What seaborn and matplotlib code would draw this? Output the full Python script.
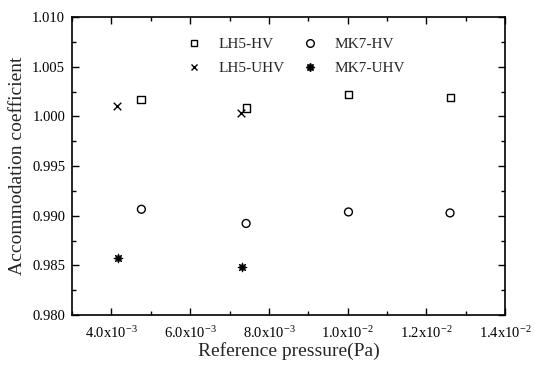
import matplotlib
matplotlib.use("Agg")
import matplotlib.pyplot as plt
import seaborn as sns
import pandas as pd
from matplotlib.ticker import FixedLocator, MultipleLocator, AutoMinorLocator
from matplotlib.lines import Line2D

# ---- data ----
lh5_hv_x = [4.75e-3, 7.42e-3, 10.02e-3, 12.60e-3]
lh5_hv_y = [1.0017, 1.00085, 1.00224, 1.0019]
lh5_uhv_x = [4.14e-3, 7.30e-3]
lh5_uhv_y = [1.00108, 1.00034]
mk7_hv_x = [4.76e-3, 7.42e-3, 10.02e-3, 12.60e-3]
mk7_hv_y = [0.99065, 0.98922, 0.99038, 0.99028]
mk7_uhv_x = [4.16e-3, 7.31e-3]
mk7_uhv_y = [0.98571, 0.98484]

xticks = [4.0e-3, 6.0e-3, 8.0e-3, 1.0e-2, 1.2e-2, 1.4e-2]
xtick_labels = [r'4.0x10$^{-3}$', r'6.0x10$^{-3}$', r'8.0x10$^{-3}$',
                r'1.0x10$^{-2}$', r'1.2x10$^{-2}$', r'1.4x10$^{-2}$']
yticks = [0.980, 0.985, 0.990, 0.995, 1.000, 1.005, 1.010]
ytick_labels = ['0.980', '0.985', '0.990', '0.995', '1.000', '1.005', '1.010']

sns.set_style("ticks")
plt.rcParams['font.family'] = ['Liberation Serif', 'DejaVu Serif']
plt.rcParams['mathtext.fontset'] = 'custom'
plt.rcParams['mathtext.rm'] = 'Liberation Serif'
plt.rcParams['mathtext.it'] = 'Liberation Serif'
plt.rcParams['mathtext.default'] = 'regular'

fig = plt.figure(figsize=(5.34, 3.65), dpi=100)
ax = fig.add_axes([0.135, 0.137, 0.811, 0.816])

df1 = pd.DataFrame({'x': lh5_hv_x, 'y': lh5_hv_y})
df2 = pd.DataFrame({'x': lh5_uhv_x, 'y': lh5_uhv_y})
df3 = pd.DataFrame({'x': mk7_hv_x, 'y': mk7_hv_y})
df4 = pd.DataFrame({'x': mk7_uhv_x, 'y': mk7_uhv_y})

sns.scatterplot(data=df1, x='x', y='y', ax=ax, marker='s', s=26,
                facecolor='none', edgecolor='black', linewidth=1.0)
sns.scatterplot(data=df2, x='x', y='y', ax=ax, marker='x', s=30,
                color='black', linewidth=1.0)
sns.scatterplot(data=df3, x='x', y='y', ax=ax, marker='o', s=32,
                facecolor='none', edgecolor='black', linewidth=1.0)
sns.scatterplot(data=df4, x='x', y='y', ax=ax, marker=(8, 1, 0), s=42,
                color='black', edgecolor='black', linewidth=0.6)

ax.set_xlim(3.0e-3, 1.4e-2)
ax.set_ylim(0.980, 1.010)
ax.xaxis.set_major_locator(FixedLocator(xticks))
ax.set_xticklabels(xtick_labels)
ax.xaxis.set_minor_locator(MultipleLocator(1e-3))
ax.yaxis.set_major_locator(FixedLocator(yticks))
ax.set_yticklabels(ytick_labels)
ax.yaxis.set_minor_locator(AutoMinorLocator(2))

ax.tick_params(which='both', direction='in', top=True, right=True,
               labelsize=10.5, colors='black', width=1.0)
ax.tick_params(which='major', length=5, pad=5)
ax.tick_params(axis='x', which='major', pad=7)
ax.tick_params(which='minor', length=3)
for sp in ax.spines.values():
    sp.set_linewidth(1.2)
    sp.set_color('black')

ax.set_xlabel('Reference pressure(Pa)', fontsize=14, labelpad=1)
ax.set_ylabel('Accommodation coefficient', fontsize=14, labelpad=4)

handles = [
    Line2D([], [], linestyle='', marker='s', markersize=5, markerfacecolor='none',
           markeredgecolor='black', label='LH5-HV'),
    Line2D([], [], linestyle='', marker='x', markersize=5, color='black', label='LH5-UHV'),
    Line2D([], [], linestyle='', marker='o', markersize=5.5, markerfacecolor='none',
           markeredgecolor='black', label='MK7-HV'),
    Line2D([], [], linestyle='', marker=(8, 1, 0), markersize=6, color='black', label='MK7-UHV'),
]
ax.legend(handles=handles, ncol=2, frameon=False, fontsize=11,
          loc='upper left', bbox_to_anchor=(0.214, 0.979),
          columnspacing=0.7, handletextpad=0.6, labelspacing=0.7,
          borderpad=0.4)

fig.savefig('out.png', dpi=100)
